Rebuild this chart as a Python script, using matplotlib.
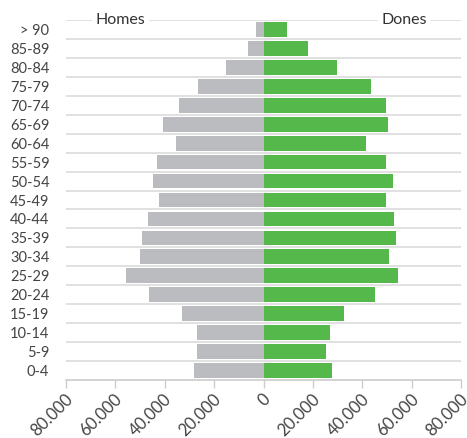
import matplotlib
matplotlib.use("Agg")
import matplotlib.pyplot as plt
from matplotlib.transforms import ScaledTranslation
import numpy as np

categories = ["0-4", "5-9", "10-14", "15-19", "20-24", "25-29", "30-34", "35-39",
              "40-44", "45-49", "50-54", "55-59", "60-64", "65-69", "70-74",
              "75-79", "80-84", "85-89", "> 90"]
homes = [28200, 26900, 26900, 33000, 46400, 55800, 50100, 49300, 46800, 42400,
         44800, 43200, 35500, 40700, 34200, 26500, 15200, 6200, 3000]
dones = [27900, 25400, 27100, 32800, 45300, 54300, 51000, 53500, 52700, 49800,
         52300, 49800, 41700, 50600, 49800, 43700, 29900, 18100, 9600]
xticks = [-80000, -60000, -40000, -20000, 0, 20000, 40000, 60000, 80000]

plt.rcParams['font.family'] = ['Lato', 'DejaVu Sans']
fig = plt.figure(figsize=(4.67, 4.38), dpi=100)
ax = fig.add_axes([66/467, 1-380/438, (461-66)/467, 360/438])

y = np.arange(len(categories))
ax.barh(y, [-v for v in homes], height=0.78, color="#bbbcbf", zorder=3)
ax.barh(y, dones, height=0.78, color="#55b84a", zorder=3)

ax.set_xlim(-80000, 80000)
ax.set_ylim(-0.5, len(categories) - 0.5)
for b in np.arange(0.5, len(categories) - 0.5 + 0.01, 1):
    ax.axhline(b, color="#dcdcdc", lw=1.2, zorder=1)

ax.set_yticks(y)
ax.set_yticklabels(categories, fontsize=10.5, color="#444444")
ax.tick_params(axis="y", length=0, pad=12)

ax.set_xticks(xticks)
ax.set_xticklabels(["{:,}".format(abs(v)).replace(",", ".") for v in xticks],
                   rotation=45, ha="right", va="baseline", rotation_mode="anchor",
                   fontsize=12, color="#444444")
ax.tick_params(axis="x", length=5.8, width=1, color="#cccccc", pad=8.6)
offset = ScaledTranslation(0.08, 0, fig.dpi_scale_trans)
for lab in ax.get_xticklabels():
    lab.set_transform(lab.get_transform() + offset)

for s in ["left", "right", "top"]:
    ax.spines[s].set_visible(False)
ax.spines["bottom"].set_color("#cccccc")
ax.spines["bottom"].set_linewidth(1.2)

ax.text(-57800, 18.5, "Homes", ha="center", va="center", fontsize=11.5,
        color="#333333", zorder=5,
        bbox=dict(facecolor="white", edgecolor="none", pad=2.5))
ax.text(57100, 18.5, "Dones", ha="center", va="center", fontsize=11.5,
        color="#333333", zorder=5,
        bbox=dict(facecolor="white", edgecolor="none", pad=2.5))

fig.savefig("out.png", dpi=100)
